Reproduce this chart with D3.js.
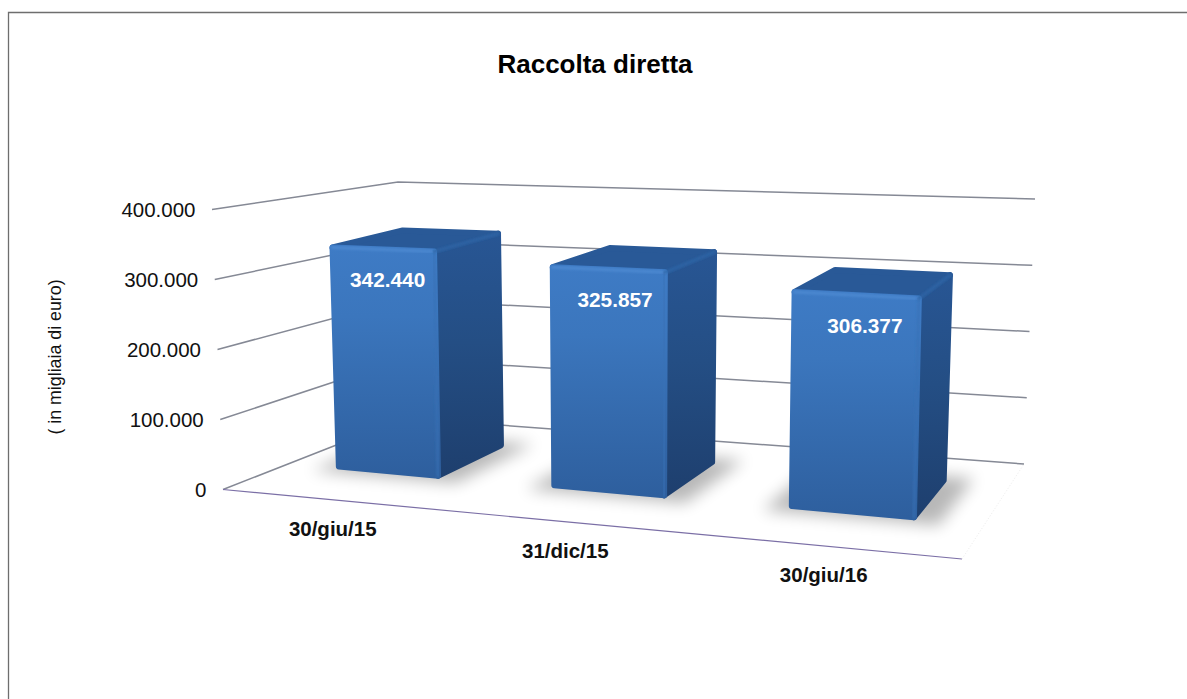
<!DOCTYPE html>
<html lang="it">
<head>
<meta charset="utf-8">
<title>Raccolta diretta</title>
<script src="https://cdn.jsdelivr.net/npm/d3@7/dist/d3.min.js"></script>
<style>
  html, body { margin: 0; padding: 0; background: #fff; }
  svg { display: block; font-family: "Liberation Sans", Arial, sans-serif; }
</style>
</head>
<body>
<svg id="chart" width="1187" height="699"></svg>
<script>
// Chart data
const categories = ["30/giu/15", "31/dic/15", "30/giu/16"];
const values = [342440, 325857, 306377];
const valueTicks = [0, 100000, 200000, 300000, 400000];
const chartTitle = "Raccolta diretta";
const axisTitle = "( in migliaia di euro)";

const itNumber = d3.formatLocale({ decimal: ",", thousands: ".", grouping: [3], currency: ["", "€"] }).format(",");

// Scene scales: category and depth run across the floor, value runs up the walls
const u = d3.scaleBand().domain(categories).range([0, 1]).paddingInner(0.5).paddingOuter(0.25);
const v = d3.scaleLinear().domain([0, 1]).range([0, 1]);
const h = d3.scaleLinear().domain([0, 400000]).range([0, 1]);
const barDepth = [0.3, 0.7];

// Perspective of the floor: unit square mapped to the four visible floor corners
const floor = { fl: [223, 489.5], fr: [962, 559], br: [1024, 464], bl: [405, 418] };
const floorMap = (() => {
  const [x0, y0] = floor.fl, [x1, y1] = floor.fr, [x2, y2] = floor.br, [x3, y3] = floor.bl;
  const dx1 = x1 - x2, dx2 = x3 - x2, sx = x0 - x1 + x2 - x3;
  const dy1 = y1 - y2, dy2 = y3 - y2, sy = y0 - y1 + y2 - y3;
  const det = dx1 * dy2 - dx2 * dy1;
  const g = (sx * dy2 - dx2 * sy) / det, k = (dx1 * sy - sx * dy1) / det;
  const a = x1 - x0 + g * x1, b = x3 - x0 + k * x3, d = y1 - y0 + g * y1, e = y3 - y0 + k * y3;
  return (s, t) => {
    const w = g * s + k * t + 1;
    return [(a * s + b * t + x0) / w, (d * s + e * t + y0) / w];
  };
})();

// Screen vector of full height at each floor corner, blended across the floor.
// The walls and the bars lean slightly differently, so each has its own set.
const wallRise = { fl: [-11, -280], fr: [6.5, -310], br: [11, -265], bl: [-7, -236] };
const barRise = { fl: [-9.6, -270], fr: [6.4, -310], br: [11, -265], bl: [-7, -236] };
function project(s, t, value, rise = wallRise) {
  const [fx, fy] = floorMap(s, t);
  const front = d3.interpolate(rise.fl, rise.fr)(s);
  const back = d3.interpolate(rise.bl, rise.br)(s);
  const r = d3.interpolate(front, back)(t);
  const q = h(value);
  return [fx + r[0] * q, fy + r[1] * q];
}

const svg = d3.select("#chart");
const line = d3.line();
const poly = pts => line(pts) + "Z";

// Gradients and blur
const defs = svg.append("defs");
function vGrad(id, stops) {
  const g = defs.append("linearGradient").attr("id", id).attr("x1", 0).attr("y1", 0).attr("x2", 0).attr("y2", 1);
  stops.forEach(([o, c]) => g.append("stop").attr("offset", o).attr("stop-color", c));
}
vGrad("faceFill", [[0, "#3e7bc5"], [0.3, "#3b76bd"], [1, "#2e5f9e"]]);
vGrad("sideFill", [[0, "#285694"], [0.45, "#244e84"], [1, "#1e3f6e"]]);
defs.append("filter").attr("id", "soft").attr("x", "-30%").attr("y", "-60%").attr("width", "160%").attr("height", "220%")
  .append("feGaussianBlur").attr("stdDeviation", 8);
defs.append("filter").attr("id", "edgeBlur").attr("x", "-20%").attr("y", "-20%").attr("width", "140%").attr("height", "140%")
  .append("feGaussianBlur").attr("stdDeviation", 1.3);

// Outer frame of the chart area
svg.append("path").attr("d", line([[8.5, 699], [8.5, 12.5], [1187, 12.5]]))
  .attr("fill", "none").attr("stroke", "#6e6e6e").attr("stroke-width", 1.3);

// Title
svg.append("text").attr("x", 595).attr("y", 73).attr("text-anchor", "middle")
  .attr("font-size", 26).attr("font-weight", "bold").attr("fill", "#000").text(chartTitle);

// Wall gridlines
svg.append("g").selectAll("path").data(valueTicks).join("path")
  .attr("d", d => line([project(0, 0, d), project(0, 1, d), project(1, 1, d)]))
  .attr("fill", "none").attr("stroke", "#858995").attr("stroke-width", 1.5);

// Floor edges
svg.append("path").attr("d", line([project(0, 0, 0), project(1, 0, 0)]))
  .attr("fill", "none").attr("stroke", "#7b6fa6").attr("stroke-width", 1.2);
svg.append("path").attr("d", line([project(1, 0, 0), project(1, 1, 0)]))
  .attr("fill", "none").attr("stroke", "#ececec").attr("stroke-width", 1).attr("stroke-dasharray", "1 2");

// Bars
const bars = svg.append("g").selectAll("g").data(categories.map((c, i) => ({ c, value: values[i] }))).join("g");

const cornerRadius = 3;
const pull = (p, dx, dy) => [p[0] + dx * cornerRadius, p[1] + dy * cornerRadius];

// Bar corners pulled inward so the round stroke lands on the true outline
function corners(d) {
  const s0 = u(d.c), s1 = s0 + u.bandwidth();
  const [t0, t1] = barDepth.map(x => v(x));
  return {
    fbl: pull(project(s0, t0, 0, barRise), 1, -1), fbr: pull(project(s1, t0, 0, barRise), -1, -1),
    bbr: pull(project(s1, t1, 0, barRise), -1, -1),
    ftl: pull(project(s0, t0, d.value, barRise), 1, 1), ftr: pull(project(s1, t0, d.value, barRise), -1, 1),
    btr: pull(project(s1, t1, d.value, barRise), -1, 1), btl: pull(project(s0, t1, d.value, barRise), 1, 1)
  };
}

bars.append("path")
  .attr("d", d => {
    const s0 = u(d.c) - 0.03, s1 = u(d.c) + u.bandwidth() + 0.03;
    return poly([floorMap(s0, 0.27), floorMap(s1, 0.27), floorMap(s1, 0.78), floorMap(s0, 0.78)]);
  })
  .attr("fill", "#000").attr("opacity", 0.28).attr("filter", "url(#soft)");

const rounded = sel => sel.attr("stroke-width", cornerRadius * 2).attr("stroke-linejoin", "round");

bars.append("path")
  .attr("d", d => { const p = corners(d); return poly([p.ftr, p.btr, p.bbr, p.fbr]); })
  .attr("fill", "url(#sideFill)").attr("stroke", "url(#sideFill)").call(rounded);
bars.append("path")
  .attr("d", d => { const p = corners(d); return poly([p.ftl, p.btl, p.btr, p.ftr]); })
  .attr("fill", "#295997").attr("stroke", "#295997").call(rounded);
bars.append("path")
  .attr("d", d => { const p = corners(d); return poly([p.fbl, p.ftl, p.ftr, p.fbr]); })
  .attr("fill", "url(#faceFill)").attr("stroke", "url(#faceFill)").call(rounded);

// Soft bevel highlights along the front edges
const bevel = (sel, ends, colour, width, opacity) => sel.append("path")
  .attr("d", d => { const p = corners(d); return line([p[ends[0]], p[ends[1]]]); })
  .attr("fill", "none").attr("stroke", colour).attr("stroke-width", width).attr("stroke-opacity", opacity)
  .attr("stroke-linecap", "round").attr("filter", "url(#edgeBlur)");
bevel(bars, ["ftl", "ftr"], "#4c8ad2", 3, 0.9);
bevel(bars, ["ftr", "fbr"], "#3871b6", 3, 0.6);
bevel(bars, ["ftr", "btr"], "#2e65a8", 3, 0.8);

// Value labels on the front faces
const labelAnchor = d => {
  const s = u(d.c) + u.bandwidth() / 2;
  const p = project(s, barDepth[0], d.value, barRise);
  return [p[0] + 4 + 6 * s, p[1] + 33.5];
};
bars.append("text")
  .attr("x", d => labelAnchor(d)[0])
  .attr("y", d => labelAnchor(d)[1])
  .attr("dy", "0.35em").attr("text-anchor", "middle")
  .attr("font-size", 20.8).attr("font-weight", "bold").attr("fill", "#fff")
  .text(d => itNumber(d.value));

// Value axis labels
svg.append("g").selectAll("text").data(valueTicks).join("text")
  .attr("x", d => project(0, 0, d)[0] - 16.5)
  .attr("y", d => project(0, 0, d)[1] + 0.8)
  .attr("dy", "0.35em").attr("text-anchor", "end")
  .attr("font-size", 20.5).attr("fill", "#111")
  .text(d => itNumber(d));

// Category labels in front of the floor
svg.append("g").selectAll("text").data(categories).join("text")
  .attr("x", d => floorMap(u(d) + u.bandwidth() / 2, 0)[0] + 2)
  .attr("y", d => floorMap(u(d) + u.bandwidth() / 2, 0)[1] + 29)
  .attr("dy", "0.35em").attr("text-anchor", "middle")
  .attr("font-size", 20.5).attr("font-weight", "bold").attr("fill", "#111")
  .text(d => d);

// Axis title
svg.append("text").attr("transform", "translate(55,357) rotate(-90)")
  .attr("dy", "0.35em").attr("text-anchor", "middle")
  .attr("font-size", 17.8).attr("fill", "#111").text(axisTitle);
</script>
</body>
</html>
